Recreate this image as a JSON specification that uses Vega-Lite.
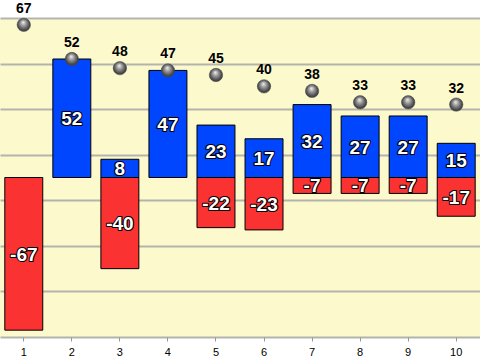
{
  "$schema": "https://vega.github.io/schema/vega-lite/v6.json",
  "width": 480,
  "height": 319,
  "autosize": {"type": "none"},
  "padding": {"top": 18, "left": 0, "right": 0, "bottom": 23},
  "background": "white",
  "config": {
    "view": {"fill": "#fcf9cc", "stroke": null},
    "font": "Liberation Sans"
  },
  "datasets": {
    "bars": [
      {"x": "1", "sign": "neg", "value": -67, "label": "-67"},
      {"x": "2", "sign": "pos", "value": 52, "label": "52"},
      {"x": "3", "sign": "pos", "value": 8, "label": "8"},
      {"x": "3", "sign": "neg", "value": -40, "label": "-40"},
      {"x": "4", "sign": "pos", "value": 47, "label": "47"},
      {"x": "5", "sign": "pos", "value": 23, "label": "23"},
      {"x": "5", "sign": "neg", "value": -22, "label": "-22"},
      {"x": "6", "sign": "pos", "value": 17, "label": "17"},
      {"x": "6", "sign": "neg", "value": -23, "label": "-23"},
      {"x": "7", "sign": "pos", "value": 32, "label": "32"},
      {"x": "7", "sign": "neg", "value": -7, "label": "-7"},
      {"x": "8", "sign": "pos", "value": 27, "label": "27"},
      {"x": "8", "sign": "neg", "value": -7, "label": "-7"},
      {"x": "9", "sign": "pos", "value": 27, "label": "27"},
      {"x": "9", "sign": "neg", "value": -7, "label": "-7"},
      {"x": "10", "sign": "pos", "value": 15, "label": "15"},
      {"x": "10", "sign": "neg", "value": -17, "label": "-17"}
    ],
    "points": [
      {"x": "1", "total": 67},
      {"x": "2", "total": 52},
      {"x": "3", "total": 48},
      {"x": "4", "total": 47},
      {"x": "5", "total": 45},
      {"x": "6", "total": 40},
      {"x": "7", "total": 38},
      {"x": "8", "total": 33},
      {"x": "9", "total": 33},
      {"x": "10", "total": 32}
    ]
  },
  "encoding": {
    "x": {
      "field": "x",
      "type": "ordinal",
      "sort": ["1","2","3","4","5","6","7","8","9","10"],
      "scale": {"paddingInner": 0.21, "paddingOuter": 0.1},
      "axis": {
        "title": null,
        "labelAngle": 0,
        "domain": false,
        "ticks": true,
        "tickColor": "#999999",
        "tickSize": 4,
        "labelFontSize": 11,
        "labelColor": "#000000",
        "labelPadding": 5,
        "grid": false
      }
    }
  },
  "layer": [
    {
      "data": {"name": "bars"},
      "mark": {"type": "bar", "stroke": "#000000", "strokeWidth": 1},
      "encoding": {
        "y": {
          "field": "value",
          "type": "quantitative",
          "stack": null,
          "scale": {"domain": [-70, 70], "nice": false, "zero": false},
          "axis": {
            "title": null,
            "labels": false,
            "ticks": false,
            "domain": false,
            "grid": true,
            "gridColor": "#b4b4ae",
            "gridWidth": 2,
            "gridOpacity": 1,
            "values": [-70, -60, -50, -40, -30, -20, -10, 0, 10, 20, 30, 40, 50, 60, 70]
          }
        },
        "y2": {"datum": 0},
        "color": {
          "field": "sign",
          "type": "nominal",
          "scale": {"domain": ["pos", "neg"], "range": ["#0046ff", "#fa3232"]},
          "legend": null
        }
      }
    },
    {
      "data": {"name": "bars"},
      "transform": [{"calculate": "datum.value / 2", "as": "mid"}],
      "mark": {"type": "text", "fontSize": 19, "fontWeight": "bold", "fill": "#000000", "stroke": "#000000", "strokeWidth": 2.2, "strokeJoin": "round", "baseline": "middle", "dy": 1},
      "encoding": {
        "y": {"field": "mid", "type": "quantitative", "stack": null},
        "text": {"field": "label", "type": "nominal"}
      }
    },
    {
      "data": {"name": "bars"},
      "transform": [{"calculate": "datum.value / 2", "as": "mid"}],
      "mark": {"type": "text", "fontSize": 19, "fontWeight": "bold", "fill": "#ffffff", "baseline": "middle", "dy": 1},
      "encoding": {
        "y": {"field": "mid", "type": "quantitative", "stack": null},
        "text": {"field": "label", "type": "nominal"}
      }
    },
    {
      "data": {"name": "points"},
      "mark": {
        "type": "point",
        "shape": "circle",
        "filled": true,
        "size": 180,
        "opacity": 1,
        "fill": {
          "gradient": "radial",
          "x1": 0.45, "y1": 0.3, "r1": 0,
          "x2": 0.5, "y2": 0.5, "r2": 0.6,
          "stops": [
            {"offset": 0, "color": "#f4f4f4"},
            {"offset": 0.35, "color": "#9a9a9a"},
            {"offset": 0.8, "color": "#3c3c3c"},
            {"offset": 1, "color": "#707070"}
          ]
        },
        "stroke": "#444444",
        "strokeWidth": 0.5
      },
      "encoding": {
        "y": {"field": "total", "type": "quantitative"}
      }
    },
    {
      "data": {"name": "points"},
      "mark": {"type": "text", "fontSize": 14, "fontWeight": "bold", "fill": "#000000", "dy": -16, "baseline": "middle"},
      "encoding": {
        "y": {"field": "total", "type": "quantitative"},
        "text": {"field": "total", "type": "quantitative"}
      }
    }
  ]
}
